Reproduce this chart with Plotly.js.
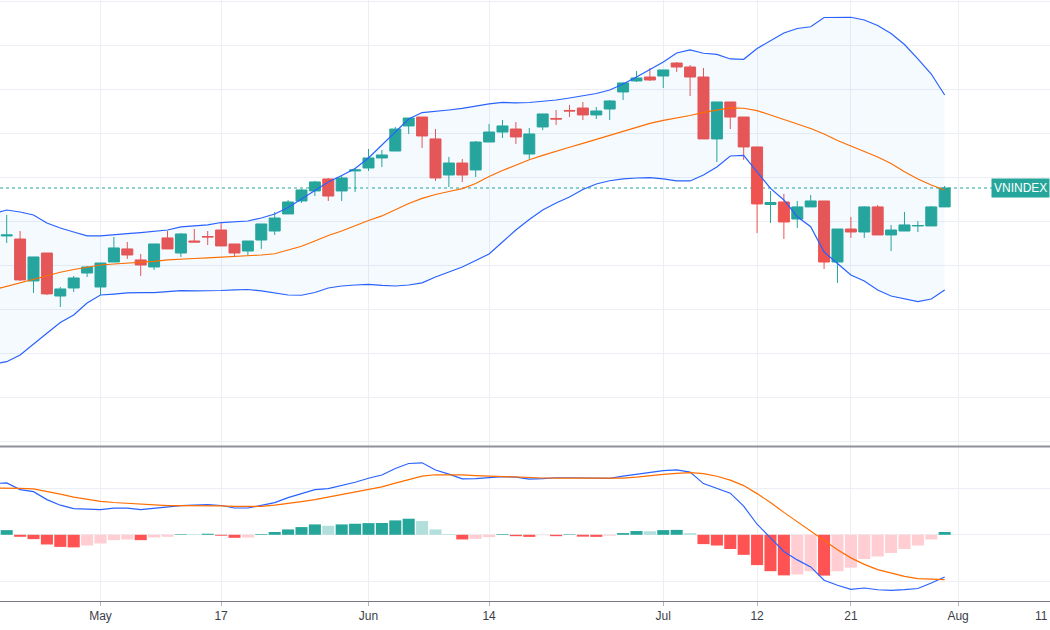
<!DOCTYPE html>
<html>
<head>
<meta charset="utf-8">
<script src="https://cdn.plot.ly/plotly-3.0.1.min.js"></script>
<style>
html,body{margin:0;padding:0;background:#fff;}
#chart{width:1050px;height:630px;}
</style>
</head>
<body>
<div id="chart"></div>
<script>
// ---- Trading days (VNINDEX, daily) ----
const candleDates = [
 '2021-04-20','2021-04-22','2021-04-23','2021-04-26','2021-04-27','2021-04-28','2021-04-29',
 '2021-05-04','2021-05-05','2021-05-06','2021-05-07','2021-05-10','2021-05-11','2021-05-12','2021-05-13','2021-05-14',
 '2021-05-17','2021-05-18','2021-05-19','2021-05-20','2021-05-21','2021-05-24','2021-05-25','2021-05-26','2021-05-27','2021-05-28','2021-05-31',
 '2021-06-01','2021-06-02','2021-06-03','2021-06-04','2021-06-07','2021-06-08','2021-06-09','2021-06-10','2021-06-11',
 '2021-06-14','2021-06-15','2021-06-16','2021-06-17','2021-06-18','2021-06-21','2021-06-22','2021-06-23','2021-06-24','2021-06-25',
 '2021-06-28','2021-06-29','2021-06-30','2021-07-01','2021-07-02','2021-07-05','2021-07-06','2021-07-07','2021-07-08','2021-07-09',
 '2021-07-12','2021-07-13','2021-07-14','2021-07-15','2021-07-16','2021-07-19','2021-07-20','2021-07-21','2021-07-22','2021-07-23',
 '2021-07-26','2021-07-27','2021-07-28','2021-07-29','2021-07-30'];
const priorDate = '2021-04-19';
const futureDates = ['2021-08-02','2021-08-03','2021-08-04','2021-08-05','2021-08-06','2021-08-09','2021-08-10','2021-08-11'];

const open = [1267.3,1264.5,1226.4,1251.8,1212.7,1220.0,1233.6,1220.9,1243.6,1255.5,
 1245.5,1239.1,1265.5,1251.8,1262.7,1266.8,1272.7,1260.0,1253.6,1263.6,
 1271.8,1287.3,1299.1,1308.2,1319.1,1308.2,1326.4,1329.1,1338.2,1344.5,
 1367.3,1375.4,1355.5,1322.7,1333.6,1327.3,1352.7,1361.8,1364.5,1341.8,
 1366.4,1374.1,1381.4,1383.6,1377.3,1382.7,1398.2,1408.2,1411.8,1412.7,
 1424.5,1420.9,1411.8,1355.5,1389.1,1375.4,1348.2,1295.9,1298.2,1282.7,
 1293.7,1299.1,1243.6,1273.6,1270.9,1293.7,1268.2,1271.8,1276.4,1276.4,
 1293.7];
const high = [1286.4,1271.8,1248.2,1251.8,1220.9,1230.9,1240.0,1242.7,1266.4,1261.8,
 1250.9,1260.0,1271.8,1270.0,1273.6,1271.8,1279.1,1260.0,1262.7,1278.2,
 1289.1,1300.0,1310.0,1317.3,1320.0,1322.7,1329.1,1346.4,1345.5,1366.4,
 1374.5,1375.4,1364.5,1339.1,1337.3,1353.6,1369.1,1372.7,1370.9,1365.5,
 1378.2,1381.8,1386.4,1389.1,1384.5,1390.9,1407.3,1417.3,1420.0,1418.2,
 1425.4,1422.7,1420.0,1389.1,1389.1,1375.4,1348.2,1308.2,1305.5,1299.1,
 1304.5,1299.1,1273.6,1284.5,1294.5,1295.4,1277.3,1289.1,1280.9,1294.5,
 1312.7];
const low = [1260.9,1226.4,1215.5,1213.6,1202.7,1216.4,1230.0,1213.6,1243.6,1246.4,
 1230.9,1236.4,1255.5,1248.2,1261.8,1259.1,1258.2,1248.2,1250.0,1255.5,
 1268.2,1287.3,1297.3,1303.6,1299.1,1299.1,1307.3,1326.4,1330.0,1344.5,
 1360.0,1347.3,1317.3,1311.8,1316.4,1320.9,1352.7,1356.4,1350.9,1337.3,
 1363.6,1368.2,1375.4,1372.7,1373.6,1372.7,1390.9,1407.3,1408.2,1401.8,
 1416.4,1394.5,1355.5,1334.5,1364.5,1336.4,1270.0,1279.1,1264.5,1274.5,
 1293.7,1237.3,1224.6,1265.5,1265.5,1268.2,1253.6,1271.8,1270.9,1276.4,
 1293.7];
const close = [1268.2,1227.3,1248.2,1214.6,1219.1,1229.1,1239.1,1242.7,1256.4,1250.0,
 1240.9,1260.0,1255.5,1269.1,1261.8,1266.4,1258.2,1251.8,1262.7,1278.2,
 1283.6,1298.2,1309.1,1316.4,1303.6,1320.0,1327.3,1338.2,1340.9,1364.5,
 1374.5,1358.2,1320.0,1333.6,1322.7,1352.7,1361.8,1367.3,1357.3,1360.0,
 1378.2,1373.6,1380.9,1377.3,1380.9,1390.0,1406.4,1410.9,1409.1,1418.2,
 1420.9,1411.8,1355.5,1389.1,1375.4,1348.2,1296.4,1297.7,1280.0,1293.7,
 1299.1,1243.6,1273.6,1270.9,1293.7,1268.2,1272.7,1277.3,1276.8,1293.7,
 1310.9];

// ---- Bollinger Bands (from 2021-04-19) ----
const bbUpper = [1287.3,1290.9,1289.1,1286.4,1279.1,1274.5,1270.9,1267.3,1267.3,1268.6,
 1269.5,1270.4,1271.4,1272.7,1275.5,1276.4,1277.3,1279.5,1280.0,1280.9,
 1283.6,1287.3,1293.2,1300.9,1308.2,1316.4,1322.3,1328.6,1338.2,1350.0,
 1362.7,1373.6,1379.5,1380.4,1381.8,1383.2,1385.4,1387.3,1388.8,1388.2,
 1388.6,1389.5,1390.9,1392.7,1395.0,1396.8,1400.0,1405.4,1411.8,1418.6,
 1425.4,1433.6,1436.4,1433.4,1432.4,1428.2,1427.9,1437.7,1444.5,1451.8,
 1455.9,1457.5,1465.9,1466.1,1466.1,1463.6,1458.6,1451.3,1441.3,1428.2,
 1414.5,1395.4];
const bbBasis = [1218.2,1221.4,1224.3,1228.2,1231.4,1234.3,1236.8,1239.1,1240.9,1241.8,
 1242.5,1243.2,1244.1,1245.5,1246.4,1246.8,1247.3,1247.9,1248.6,1249.3,
 1250.0,1251.1,1254.6,1257.9,1262.7,1267.7,1271.8,1276.8,1281.4,1285.5,
 1290.9,1296.8,1301.4,1305.0,1307.7,1310.3,1315.0,1321.4,1326.8,1332.0,
 1336.6,1340.5,1344.5,1347.9,1351.5,1355.2,1358.6,1362.3,1366.1,1369.7,
 1372.3,1374.5,1376.8,1379.7,1382.0,1383.8,1383.4,1381.2,1377.3,1373.2,
 1369.1,1365.0,1360.0,1354.1,1349.1,1344.4,1339.1,1333.2,1325.6,1319.1,
 1313.6,1309.1];
const bbLower = [1150.9,1153.0,1159.1,1168.6,1178.8,1188.6,1195.5,1206.4,1213.6,1214.5,
 1215.5,1215.7,1215.7,1216.6,1217.6,1217.3,1217.3,1217.7,1218.2,1218.6,
 1217.3,1215.5,1213.6,1213.4,1215.9,1220.0,1221.8,1222.7,1223.2,1222.3,
 1221.8,1222.7,1224.6,1230.0,1234.6,1239.1,1245.0,1250.9,1261.8,1272.7,
 1282.3,1290.9,1297.3,1302.7,1309.5,1314.5,1317.5,1319.1,1320.0,1320.3,
 1319.1,1317.3,1317.3,1322.7,1330.0,1340.0,1340.5,1325.5,1310.5,1300.0,
 1284.8,1275.7,1252.7,1242.3,1231.8,1226.4,1218.2,1212.7,1210.0,1207.6,
 1210.0,1218.2];

// ---- MACD (from 2021-04-19) ----
const macdLine = [10.97,11.12,9.68,9.25,7.53,6.34,5.59,5.42,5.38,5.70,
 5.70,5.38,5.70,5.87,6.24,6.34,6.45,6.28,5.74,5.74,
 6.30,6.88,7.96,8.82,9.68,9.89,10.54,11.25,12.11,12.80,
 14.19,15.27,15.42,13.87,13.01,11.98,12.04,12.30,12.47,12.37,
 11.94,12.04,12.22,12.22,12.22,12.19,12.09,12.58,13.01,13.33,
 13.76,13.89,13.44,10.97,10.00,8.92,6.13,2.26,-0.65,-3.57,
 -5.38,-6.88,-9.74,-10.82,-11.70,-11.40,-11.78,-11.91,-11.76,-11.51,
 -10.32,-9.03];
const signalLine = [10.04,10.04,9.94,9.83,9.35,8.71,8.06,7.53,7.16,6.92,
 6.73,6.56,6.39,6.24,6.24,6.26,6.28,6.19,6.09,6.09,
 6.09,6.34,6.67,7.10,7.53,8.06,8.60,9.25,9.78,10.26,
 11.08,11.87,12.58,12.86,12.90,12.84,12.69,12.56,12.43,12.37,
 12.22,12.17,12.15,12.13,12.11,12.09,12.06,12.15,12.37,12.69,
 12.95,13.16,13.31,13.12,12.54,11.72,10.54,8.82,6.92,4.80,
 2.84,0.86,-1.18,-3.23,-4.95,-6.34,-7.46,-8.17,-8.90,-9.40,
 -9.51,-9.59];
const histogram = [0.8,1.0,-0.43,-0.93,-2.08,-2.6,-2.7,-2.3,-1.86,-1.15,
 -1.0,-1.15,-0.57,-0.43,0.12,0.1,0.22,-0.2,-0.65,-0.57,
 0.14,0.6,1.15,1.65,2.22,1.93,2.22,2.37,2.5,2.52,
 3.08,3.44,2.94,1.15,0.14,-1.0,-0.86,-0.5,0.14,-0.3,
 -0.45,-0.1,-0.3,0.1,-0.4,-0.45,-0.2,0.36,0.8,0.75,
 1.0,1.05,0.36,-2.0,-2.3,-3.05,-4.3,-6.5,-7.8,-8.7,
 -8.5,-7.8,-8.75,-7.8,-7.05,-5.2,-4.65,-3.9,-3.05,-2.3,
 -1.0,0.6];

// ---- Axis labels ----
const tickDates = ['2021-05-04','2021-05-17','2021-06-01','2021-06-14','2021-07-01','2021-07-12','2021-07-21','2021-08-02','2021-08-11'];
const tickLabels = ['May','17','Jun','14','Jul','12','21','Aug','11'];
const symbol = 'VNINDEX';

// ---- build ----
const allDates = [priorDate].concat(candleDates, futureDates);
const pos = d => allDates.indexOf(d);
const xc = candleDates.map(pos);
const indDates = [priorDate].concat(candleDates);
const xi = indDates.map(pos);

const C_UP = '#26a69a', C_DN = '#ef5350';
const BLUE = '#2962ff', ORANGE = '#ff6d00';

const histColors = histogram.map((v, k) => {
  const prev = k > 0 ? histogram[k - 1] : 0;
  if (v >= 0) return prev < v ? '#26a69a' : '#b2dfdb';
  return prev < v ? '#ffcdd2' : '#ff5252';
});

const xr = [0.5, 78.86];

const traces = [
  {type:'scatter', mode:'lines', x:xi, y:bbUpper, line:{color:BLUE, width:1.2}, hoverinfo:'skip', xaxis:'x', yaxis:'y'},
  {type:'scatter', mode:'lines', x:xi, y:bbLower, line:{color:BLUE, width:1.2}, fill:'tonexty', fillcolor:'rgba(33,150,243,0.05)', hoverinfo:'skip', xaxis:'x', yaxis:'y'},
  {type:'scatter', mode:'lines', x:xi, y:bbBasis, line:{color:ORANGE, width:1.2}, hoverinfo:'skip', xaxis:'x', yaxis:'y'},
  {type:'candlestick', x:xc, open:open, high:high, low:low, close:close,
   increasing:{line:{color:C_UP, width:1}, fillcolor:C_UP},
   decreasing:{line:{color:C_DN, width:1}, fillcolor:C_DN},
   whiskerwidth:0, hoverinfo:'skip', xaxis:'x', yaxis:'y'},
  {type:'bar', x:xi, y:histogram, marker:{color:histColors, line:{width:0}}, width:0.9, hoverinfo:'skip', xaxis:'x', yaxis:'y2'},
  {type:'scatter', mode:'lines', x:xi, y:macdLine, line:{color:BLUE, width:1.2}, hoverinfo:'skip', xaxis:'x', yaxis:'y2'},
  {type:'scatter', mode:'lines', x:xi, y:signalLine, line:{color:ORANGE, width:1.2}, hoverinfo:'skip', xaxis:'x', yaxis:'y2'}
];

const split = 0.2571;
const lastClose = close[close.length - 1];
const tickPos = tickDates.map(pos);
const inRange = tickPos.map(p => p >= xr[0] && p <= xr[1]);
const gridC = '#ebeff5';
const tickFont = {family:'Liberation Sans, Arial, sans-serif', size:12, color:'#3b3e48'};

const layout = {
  width:1050, height:630,
  margin:{l:0, r:0, t:0, b:29},
  paper_bgcolor:'#ffffff', plot_bgcolor:'#ffffff',
  showlegend:false, hovermode:false,
  boxgap:0.18, boxgroupgap:0,
  xaxis:{
    range:xr, anchor:'y2', domain:[0,1],
    rangeslider:{visible:false},
    tickmode:'array',
    tickvals:tickPos.filter((p,k)=>inRange[k]),
    ticktext:tickLabels.filter((p,k)=>inRange[k]),
    showgrid:true, gridcolor:gridC, gridwidth:1,
    zeroline:false,
    showline:true, linecolor:'#787b86', linewidth:1,
    ticks:'outside', ticklen:4, tickcolor:'#b2b5be',
    tickfont:tickFont,
    fixedrange:true
  },
  yaxis:{
    domain:[split,1], range:[1075.9, 1481.8],
    tickmode:'linear', tick0:1080, dtick:40,
    showticklabels:false, showgrid:true, gridcolor:gridC, zeroline:false, fixedrange:true
  },
  yaxis2:{
    domain:[0,split], range:[-14.19, 18.92],
    tickmode:'linear', tick0:0, dtick:10,
    showticklabels:false, showgrid:true, gridcolor:gridC, zeroline:false, fixedrange:true
  },
  shapes:[
    {type:'line', xref:'paper', yref:'paper', x0:0, x1:1, y0:split, y1:split, line:{color:'#8f929b', width:2}},
    {type:'line', xref:'paper', yref:'y', x0:0, x1:1, y0:lastClose, y1:lastClose, line:{color:C_UP, width:1, dash:'dot'}, layer:'below'}
  ],
  annotations:[
    {xref:'paper', yref:'y', x:1, y:lastClose, xanchor:'right', yanchor:'middle', text:symbol, showarrow:false,
     bgcolor:C_UP, borderpad:2, font:{family:'Liberation Sans, Arial, sans-serif', size:12, color:'#ffffff'}}
  ].concat(tickPos.map((p,k)=>({p:p,k:k})).filter(o=>!inRange[o.k]).map(o=>({
     // future tick label just past the right edge: kept inside the page
     xref:'paper', yref:'paper', x:1, y:0, yshift:-6, xanchor:'right', yanchor:'top',
     text:tickLabels[o.k], showarrow:false, font:tickFont})))
};

Plotly.newPlot('chart', traces, layout, {staticPlot:true, displayModeBar:false});
</script>
</body>
</html>
